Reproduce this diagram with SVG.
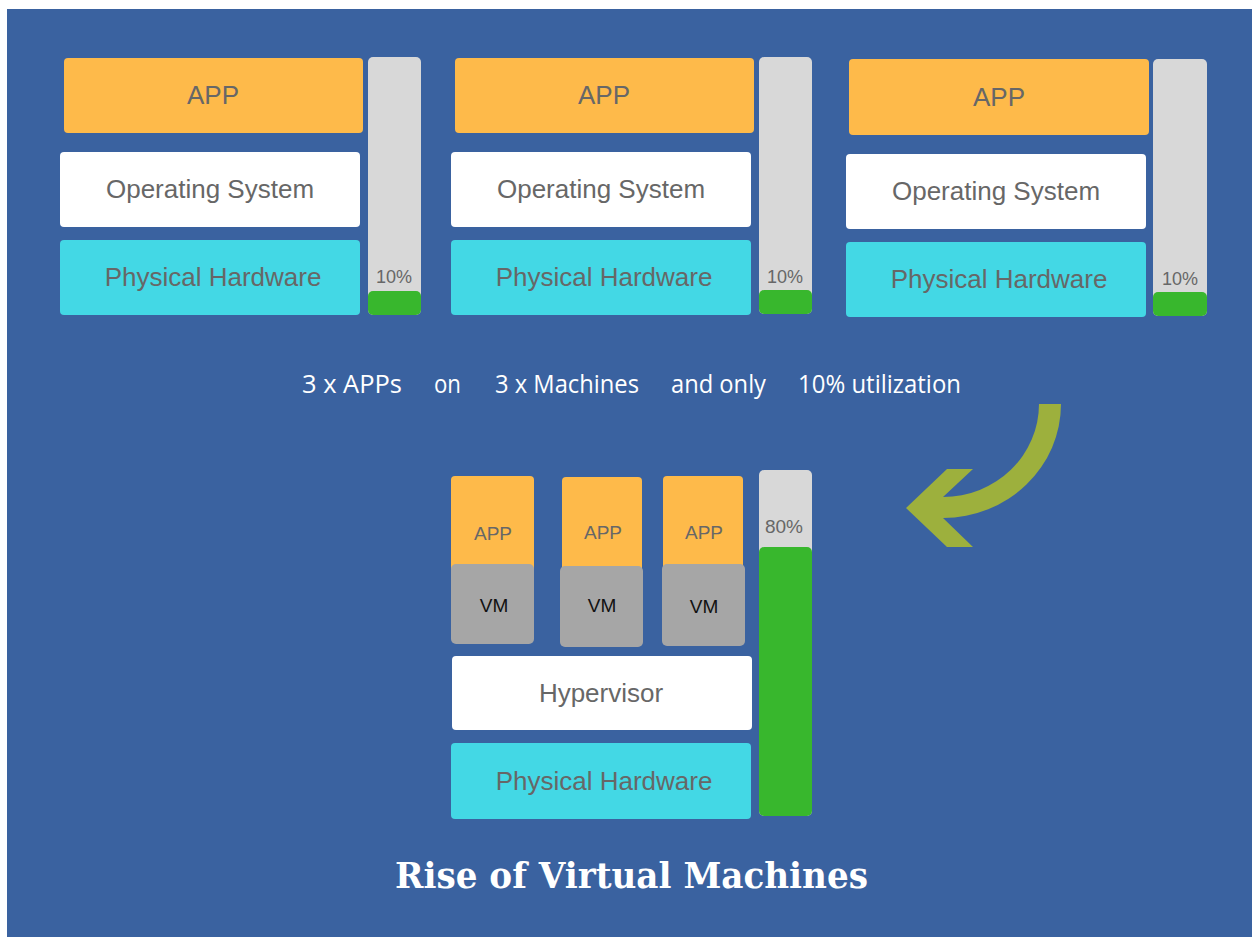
<svg xmlns="http://www.w3.org/2000/svg" width="1252" height="937" viewBox="0 0 1252 937">
  <defs>
    <style>
      .app { fill: #FEBA4A; }
      .os { fill: #FFFFFF; }
      .hw { fill: #43D8E5; }
      .vm { fill: #A6A6A6; }
      .bar { fill: #D8D8D8; }
      .fill { fill: #38B72D; }
      .lbl { font-family: "Liberation Sans", Arial, sans-serif; font-size: 26px; fill: #676767; text-anchor: middle; }
      .pct { font-family: "Liberation Sans", Arial, sans-serif; font-size: 18px; fill: #676767; text-anchor: middle; }
      .sm { font-family: "Liberation Sans", Arial, sans-serif; font-size: 19px; fill: #676767; text-anchor: middle; }
      .vmt { font-family: "Liberation Sans", Arial, sans-serif; font-size: 19px; fill: #111111; text-anchor: middle; }
      .cap { font-family: "Open Sans", "Noto Sans", sans-serif; font-size: 26px; fill: #FFFFFF; }
      .title { font-family: "DejaVu Serif", serif; font-weight: bold; font-size: 35px; fill: #FFFFFF; }
    </style>
  </defs>

  <!-- backdrop -->
  <rect x="7" y="9" width="1245" height="928" fill="#3A62A0"/>

  <!-- machine 1 -->
  <g id="machine1">
    <rect class="app" x="64" y="58" width="299" height="75" rx="4"/>
    <text class="lbl" x="213" y="104">APP</text>
    <rect class="os" x="60" y="152" width="300" height="75" rx="4"/>
    <text class="lbl" x="210" y="198">Operating System</text>
    <rect class="hw" x="60" y="240" width="300" height="75" rx="4"/>
    <text class="lbl" x="213" y="286">Physical Hardware</text>
    <rect class="bar" x="368" y="57" width="53" height="258" rx="5"/>
    <rect class="fill" x="368" y="291" width="53" height="24" rx="5"/>
    <text class="pct" x="394" y="283">10%</text>
  </g>

  <!-- machine 2 -->
  <g id="machine2">
    <rect class="app" x="455" y="58" width="299" height="75" rx="4"/>
    <text class="lbl" x="604" y="104">APP</text>
    <rect class="os" x="451" y="152" width="300" height="75" rx="4"/>
    <text class="lbl" x="601" y="198">Operating System</text>
    <rect class="hw" x="451" y="240" width="300" height="75" rx="4"/>
    <text class="lbl" x="604" y="286">Physical Hardware</text>
    <rect class="bar" x="759" y="57" width="53" height="257" rx="5"/>
    <rect class="fill" x="759" y="290" width="53" height="24" rx="5"/>
    <text class="pct" x="785" y="283">10%</text>
  </g>

  <!-- machine 3 -->
  <g id="machine3">
    <rect class="app" x="849" y="59" width="300" height="76" rx="4"/>
    <text class="lbl" x="999" y="106">APP</text>
    <rect class="os" x="846" y="154" width="300" height="75" rx="4"/>
    <text class="lbl" x="996" y="200">Operating System</text>
    <rect class="hw" x="846" y="242" width="300" height="75" rx="4"/>
    <text class="lbl" x="999" y="288">Physical Hardware</text>
    <rect class="bar" x="1153" y="59" width="54" height="257" rx="5"/>
    <rect class="fill" x="1153" y="292" width="54" height="24" rx="5"/>
    <text class="pct" x="1180" y="285">10%</text>
  </g>

  <!-- summary line -->
  <g id="summary">
    <text class="cap" x="302" y="393" textLength="100" lengthAdjust="spacingAndGlyphs">3 x APPs</text>
    <text class="cap" x="434" y="393" textLength="27" lengthAdjust="spacingAndGlyphs">on</text>
    <text class="cap" x="495" y="393" textLength="144" lengthAdjust="spacingAndGlyphs">3 x Machines</text>
    <text class="cap" x="671" y="393" textLength="95" lengthAdjust="spacingAndGlyphs">and only</text>
    <text class="cap" x="798" y="393" textLength="163" lengthAdjust="spacingAndGlyphs">10% utilization</text>
  </g>

  <!-- curved arrow -->
  <g id="connectors">
    <path fill="#9DB03D" d="M906,508 L947,469 L973,469 L943,497 A96 93 0 0 0 1039,404 L1061,404 A118 114 0 0 1 943,518 L973,547 L947,547 Z"/>
  </g>

  <!-- virtualised host -->
  <g id="vm1">
    <rect class="app" x="451" y="476" width="83" height="100" rx="4"/>
    <text class="sm" x="493" y="540">APP</text>
    <rect class="vm" x="451" y="564" width="83" height="80" rx="5"/>
    <text class="vmt" x="494" y="612">VM</text>
  </g>
  <g id="vm2">
    <rect class="app" x="562" y="477" width="80" height="100" rx="4"/>
    <text class="sm" x="603" y="539">APP</text>
    <rect class="vm" x="560" y="566" width="83" height="81" rx="5"/>
    <text class="vmt" x="602" y="612">VM</text>
  </g>
  <g id="vm3">
    <rect class="app" x="663" y="476" width="80" height="100" rx="4"/>
    <text class="sm" x="704" y="539">APP</text>
    <rect class="vm" x="662" y="564" width="83" height="82" rx="5"/>
    <text class="vmt" x="704" y="613">VM</text>
  </g>
  <g id="hypervisor">
    <rect class="os" x="452" y="656" width="300" height="74" rx="4"/>
    <text class="lbl" x="601" y="702">Hypervisor</text>
  </g>
  <g id="hardware">
    <rect class="hw" x="451" y="743" width="300" height="76" rx="4"/>
    <text class="lbl" x="604" y="790">Physical Hardware</text>
  </g>
  <g id="usage">
    <rect class="bar" x="759" y="470" width="53" height="346" rx="5"/>
    <rect class="fill" x="759" y="547" width="53" height="269" rx="5"/>
    <text class="pct" x="784" y="533" style="font-size:19px">80%</text>
  </g>

  <!-- heading -->
  <text class="title" x="395" y="888" textLength="473" lengthAdjust="spacingAndGlyphs">Rise of Virtual Machines</text>
</svg>
